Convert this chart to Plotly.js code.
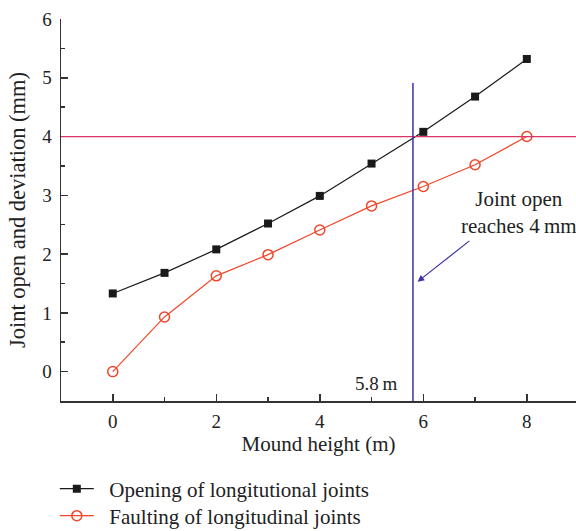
<!DOCTYPE html>
<html>
<head>
<meta charset="utf-8">
<script src="https://cdn.plot.ly/plotly-3.0.1.min.js"></script>
<style>html,body{margin:0;padding:0;background:#fff;}#chart{width:576px;height:531px;}</style>
</head>
<body>
<div id="chart"></div>
<script>
const moundHeight = [0, 1, 2, 3, 4, 5, 6, 7, 8];
const openingValues = [1.33, 1.68, 2.08, 2.52, 2.99, 3.54, 4.08, 4.68, 5.32];
const faultingValues = [0, 0.93, 1.63, 1.99, 2.41, 2.82, 3.15, 3.52, 4.0];
const seriesNames = ["Opening of longitutional joints", "Faulting of longitudinal joints"];
const thresholdOpen = 4;
const reachHeight = 5.8;
const reachLineTop = 4.91;
const xTickVals = [0, 2, 4, 6, 8];
const yTickVals = [0, 1, 2, 3, 4, 5, 6];

const font = "Liberation Serif, Times New Roman, serif";
const txt = "#222";
const pad = "\u00a0\u00a0";
const traces = [
  {x: moundHeight, y: openingValues, name: pad + seriesNames[0], mode: "lines+markers", legend: "legend",
   line: {color: "#1a1a1a", width: 1.2}, marker: {symbol: "square", size: 8, color: "#1a1a1a"}},
  {x: moundHeight, y: faultingValues, name: pad + seriesNames[1], mode: "lines+markers", legend: "legend2",
   line: {color: "#f0472b", width: 1.2}, marker: {symbol: "circle-open", size: 10, color: "#f0472b", line: {width: 1.5}}}
];
const axisCommon = {showline: true, linecolor: "#333", linewidth: 1.5, ticks: "inside", ticklen: 7, tickwidth: 1.5, tickcolor: "#333",
  showgrid: false, zeroline: false, tickfont: {family: font, size: 19, color: txt}};
const legendCommon = {x: -0.012, xanchor: "left", yref: "container", yanchor: "middle", font: {family: font, size: 21, color: txt}, itemwidth: 34, bgcolor: "rgba(0,0,0,0)"};
const layout = {
  width: 576, height: 531,
  margin: {l: 61, r: 0, t: 19, b: 130},
  paper_bgcolor: "#fff", plot_bgcolor: "#fff",
  font: {family: font, color: txt},
  showlegend: true,
  legend: Object.assign({}, legendCommon, {y: 0.0791}),
  legend2: Object.assign({}, legendCommon, {y: 0.0282}),
  xaxis: Object.assign({}, axisCommon, {range: [-1, 8.95], tickvals: xTickVals, ticklabelstandoff: 3,
    minor: {dtick: 1, ticks: "inside", ticklen: 4, tickwidth: 1.5, tickcolor: "#333"},
    title: {text: "Mound height (m)", font: {family: font, size: 21, color: txt}, standoff: 5}}),
  yaxis: Object.assign({}, axisCommon, {range: [-0.5, 6], tickvals: yTickVals, ticklabelstandoff: 4,
    minor: {dtick: 0.5, ticks: "inside", ticklen: 4, tickwidth: 1.5, tickcolor: "#333"},
    title: {text: "Joint open and deviation (mm)", font: {family: font, size: 22.5, color: txt}, standoff: 10}}),
  shapes: [
    {type: "line", xref: "paper", x0: 0, x1: 1, yref: "y", y0: thresholdOpen, y1: thresholdOpen, line: {color: "#d93466", width: 1.2}},
    {type: "line", xref: "x", x0: reachHeight, x1: reachHeight, yref: "y", y0: -0.5, y1: reachLineTop, line: {color: "#3b32a8", width: 1.5}}
  ],
  annotations: [
    {x: 7.85, y: 2.71, xref: "x", yref: "y", text: "Joint open<br>reaches 4\u2009mm", showarrow: false, font: {family: font, size: 21, color: txt}, align: "center"},
    {x: 5.1, y: -0.2, xref: "x", yref: "y", text: "5.8\u2009m", showarrow: false, font: {family: font, size: 19, color: txt}},
    {x: 5.89, y: 1.53, xref: "x", yref: "y", ax: 6.92, ay: 2.245, axref: "x", ayref: "y", text: "", showarrow: true, arrowhead: 2, arrowsize: 1.1, arrowwidth: 1.2, arrowcolor: "#3b32a8"}
  ]
};
Plotly.newPlot("chart", traces, layout, {displayModeBar: false, staticPlot: true});
</script>
</body>
</html>
